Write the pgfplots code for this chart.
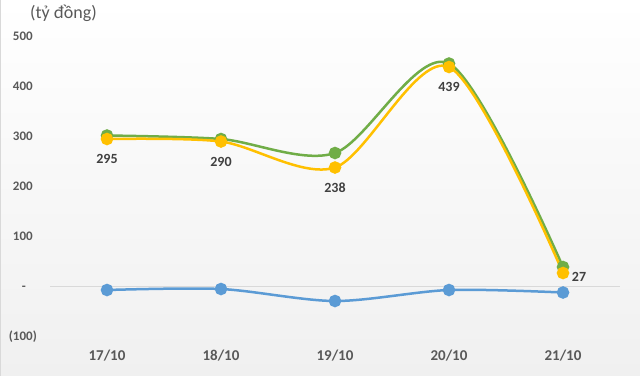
\documentclass[border=0pt]{standalone}
\usepackage{pgfplots}
\pgfplotsset{compat=1.18}
\usepackage{fontspec}
\setmainfont{Carlito}
\definecolor{cgreen}{HTML}{70AD47}
\definecolor{cyellow}{HTML}{FFC000}
\definecolor{cblue}{HTML}{5B9BD5}
\definecolor{ctext}{HTML}{595959}
\definecolor{clabel}{HTML}{404040}
\definecolor{cgrid}{HTML}{D9D9D9}
\definecolor{cbg}{HTML}{F0F0F0}
\begin{document}
\begin{tikzpicture}[x=1bp,y=1bp]
\shade[top color=white,bottom color=cbg] (0,0) rectangle (640,375);
\draw[cgrid,line width=1bp] (0.5,0) -- (0.5,375);
\node[anchor=west,font=\fontsize{18bp}{21bp}\selectfont,text=ctext,inner sep=0pt] at (30,362) {(tỷ đồng)};
\begin{axis}[at={(50bp,39bp)},anchor=south west,scale only axis,
  width=570bp,height=300bp,
  xmin=-0.5,xmax=4.5,ymin=-100,ymax=500,clip=false,
  axis line style={draw=none},major tick length=0pt,
  /pgf/number format/assume math mode=true,
  xtick={0,1,2,3,4},xticklabels={17/10,18/10,19/10,20/10,21/10},
  xticklabel style={anchor=center,inner sep=0pt,yshift=-19bp,
    font=\fontsize{15bp}{17bp}\selectfont\bfseries,text=ctext},
  ytick={-100,0,100,200,300,400,500},
  yticklabels={(100),{-\hspace{7bp}\phantom{)}},{100\phantom{)}},{200\phantom{)}},{300\phantom{)}},{400\phantom{)}},{500\phantom{)}}},
  yticklabel style={anchor=east,inner sep=0pt,xshift=-13bp,
    font=\fontsize{13bp}{15bp}\selectfont\bfseries,text=ctext},
]
\draw[cgrid,line width=1bp] (axis cs:-0.5,0) -- (axis cs:4.5,0);
\addplot[cblue,line width=2.5bp,smooth,mark=*,mark size=5bp,
  mark options={solid,fill=cblue,draw=none}]
  coordinates {(0,-7)(1,-5)(2,-29)(3,-7)(4,-12)};
\addplot[cgreen,line width=2.5bp,smooth,mark=*,mark size=5bp,
  mark options={solid,fill=cgreen,draw=none}]
  coordinates {(0,302)(1,295)(2,267)(3,446)(4,39)};
\addplot[cyellow,line width=2.5bp,smooth,mark=*,mark size=5bp,
  mark options={solid,fill=cyellow,draw=none}]
  coordinates {(0,295)(1,290)(2,238)(3,439)(4,27)};
\addplot[draw=none,mark=none,nodes near coords,point meta=explicit symbolic,
  nodes near coords style={anchor=center,inner sep=0pt,yshift=-20bp,
    font=\fontsize{14bp}{16bp}\selectfont\bfseries,text=clabel}]
  coordinates {(0,295)[295] (1,290)[290] (2,238)[238] (3,439)[439]};
\addplot[draw=none,mark=none,nodes near coords,point meta=explicit symbolic,
  nodes near coords style={anchor=center,inner sep=0pt,xshift=16bp,yshift=-4bp,
    font=\fontsize{14bp}{16bp}\selectfont\bfseries,text=clabel}]
  coordinates {(4,27)[27]};
\end{axis}
\end{tikzpicture}
\end{document}
